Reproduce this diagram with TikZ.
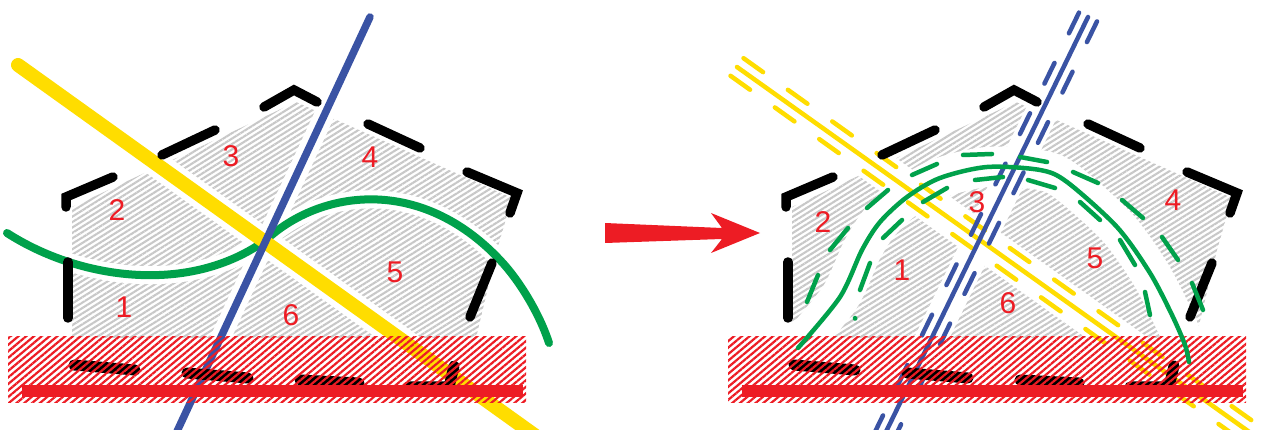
\documentclass[tikz,border=0pt]{standalone}
\usepackage{fontspec}
\setmainfont{Liberation Sans}
\usetikzlibrary{patterns.meta}
\definecolor{ylw}{RGB}{255,221,0}
\definecolor{blu}{RGB}{58,83,164}
\definecolor{grn}{RGB}{0,161,75}
\definecolor{rd}{RGB}{237,28,36}
\definecolor{gry}{RGB}{200,200,200}
\begin{document}
\begin{tikzpicture}[x=1pt,y=-1pt,
  grayhatch/.style={pattern={Lines[angle=32,distance=4.6pt,line width=2.1pt]},pattern color=gry},
  redhatch/.style={pattern={Lines[angle=40,distance=5pt,line width=2.2pt]},pattern color=rd},
  blk/.style={black,line width=9.5pt,line cap=round,line join=miter},
  blkb/.style={black,line width=11pt,line cap=round,line join=round},
  halo/.style={white,line width=#1},
  thickline/.style={line width=#1,line cap=round},
  thinline/.style={line width=4.5pt,line cap=round},
  ydash/.style={thinline,ylw,dash pattern=on 24pt off 30.5pt},
  bdash/.style={thinline,blu,dash pattern=on 23pt off 33pt},
  gdash/.style={thinline,grn},
  lbl/.style={text=rd,font=\fontsize{30}{30}\selectfont,inner sep=0pt},
  house/.pic={
    % black dashes of the house outline
    \draw[blk] (68,262) -- (68,318);
    \draw[blk] (66,207) -- (66,197) -- (113,177);
    \draw[blk] (162,155) -- (215,130);
    \draw[blk] (264,107) -- (294,90) -- (317,102);
    \draw[blk] (368,124) -- (420,148);
    \draw[blk] (467,172) -- (517,193) -- (510,213);
    \draw[blk] (492,263) -- (470,317);
    \draw[blkb] (74,365) -- (135,370);
    \draw[blkb] (187,373) -- (248,378);
    \draw[blkb] (300,380) -- (359,383);
    \draw[blkb] (410,387) -- (449,387) -- (454,366);
  },
  band/.pic={
    \fill[redhatch] (8,337) rectangle (526,402);
    \fill[rd] (22,385) rectangle (523,397);
  }
]
\useasboundingbox (0,0) rectangle (1275,430);
\clip (0,0) rectangle (1275,430);

% ================= LEFT PANEL =================
\fill[grayhatch] (72,207) -- (296,102) -- (512,198) -- (497,250) -- (476,338) -- (72,338) -- cycle;
% white gaps round the three lines
\draw[halo=26pt] (18,65) -- (540,439);
\draw[halo=20pt] (370,17) -- (173,440);
\draw[halo=18pt] (7,233) .. controls (80,280) and (190,295) .. (266,240)
      .. controls (320,190) and (420,175) .. (500,260)
      .. controls (520,281) and (540,315) .. (549,343);
% lines
\draw[thickline=8pt,grn] (7,233) .. controls (80,280) and (190,295) .. (266,240)
      .. controls (320,190) and (420,175) .. (500,260)
      .. controls (520,281) and (540,315) .. (549,343);
\draw[thickline=14pt,ylw] (18,65) -- (540,439);
\draw[thickline=7.5pt,blu] (370,17) -- (173,440);
\pic at (0,0) {house};
\pic at (0,0) {band};

\node[lbl] (l1) at (124,307) {1};
\node[lbl] (l2) at (117,210) {2};
\node[lbl] (l3) at (231,156) {3};
\node[lbl] (l4) at (370,157) {4};
\node[lbl] (l5) at (395,272) {5};
\node[lbl] (l6) at (291,315) {6};

% ================= ARROW =================
\coordinate (atail) at (605,233);
\coordinate (atip) at (760,233);
\fill[rd] (605,223) -- (722,228) -- (711,213) -- (atip) -- (711,253) -- (722,239) -- (605,243) -- cycle;

% ================= RIGHT PANEL =================
\begin{scope}[xshift=720pt]
\fill[grayhatch] (72,207) -- (296,102) -- (512,198) -- (497,250) -- (476,338) -- (72,338) -- cycle;
\end{scope}
% white gaps
\draw[halo=36pt] (737,67) -- (1276,451);
\draw[halo=32pt] (1088,17) -- (882,440);
\draw[halo=40pt] plot[smooth] coordinates {(798,348) (840,297) (862,250) (880,222) (907,197) (940,178) (987,167) (1040,170) (1067,182) (1117,227) (1150,273) (1172,315) (1185,345) (1189,362)};
% yellow triple
\draw[thinline,ylw] (737,67) -- (1276,451);
\draw[ydash] (743.5,58.2) -- (1282,442);
\draw[ydash] (730.5,75.8) -- (1269,460);
% blue triple
\draw[thinline,blu] (1088,17) -- (882,440);
\draw[bdash] (1079,12.6) -- (873,436);
\draw[bdash] (1097,21.4) -- (891,445);
\begin{scope}[xshift=720pt]
\pic at (0,0) {house};
\pic at (0,0) {band};
\end{scope}
% green triple
\draw[thinline,grn] plot[smooth] coordinates {(798,348) (840,297) (862,250) (880,222) (907,197) (940,178) (987,167) (1040,170) (1067,182) (1117,227) (1150,273) (1172,315) (1185,345) (1189,362)};
\foreach \a/\b in {{(807,302)}/{(818,275)},{(830,250)}/{(848,228)},{(867,208)}/{(888,190)},{(912,175)}/{(937,164)},{(963,155)}/{(992,154)},{(1020,157)}/{(1047,162)},{(1073,172)}/{(1098,183)},{(1122,200)}/{(1143,218)},{(1162,237)}/{(1178,260)},{(1192,283)}/{(1203,310)}}
  \draw[gdash] \a -- \b;
\foreach \a/\b in {{(855,318)}/{(855.2,318.6)},{(860,290)}/{(870,263)},{(883,238)}/{(902,220)},{(923,202)}/{(947,188)},{(975,180)}/{(1003,177)},{(1028,180)}/{(1055,188)},{(1080,202)}/{(1100,220)},{(1120,240)}/{(1135,265)},{(1145,292)}/{(1150,315)}}
  \draw[gdash] \a -- \b;

\node[lbl] (r1) at (902,270) {1};
\node[lbl] (r2) at (823,222) {2};
\node[lbl] (r3) at (977,202) {3};
\node[lbl] (r4) at (1173,200) {4};
\node[lbl] (r5) at (1095,258) {5};
\node[lbl] (r6) at (1008,303) {6};
\end{tikzpicture}
\end{document}
